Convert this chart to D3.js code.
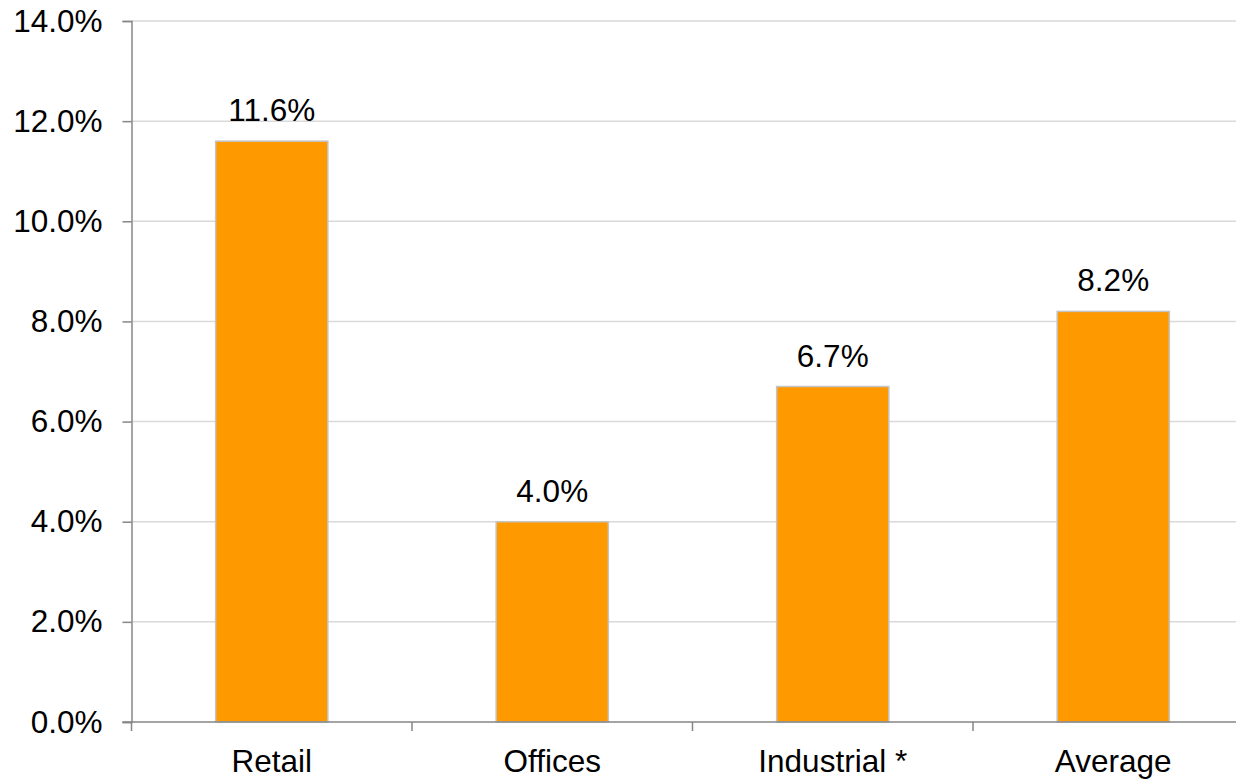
<!DOCTYPE html>
<html>
<head>
<meta charset="utf-8">
<script src="https://cdn.jsdelivr.net/npm/d3@7/dist/d3.min.js"></script>
<style>
  html, body { margin: 0; padding: 0; background: #fff; }
  svg { display: block; font-family: "Liberation Sans", Arial, sans-serif; }
</style>
</head>
<body>
<svg id="chart" width="1236" height="779"></svg>
<script>
// Chart data
const categories = ["Retail", "Offices", "Industrial *", "Average"];
const values = [11.6, 4.0, 6.7, 8.2];
const yTicks = [0, 2, 4, 6, 8, 10, 12, 14];

const svg = d3.select("#chart");
const margin = { left: 131.5, top: 21, bottom: 722 };
const bandW = 280.5;
const plotRight = margin.left + bandW * categories.length;

const x = d3.scaleBand()
  .domain(categories)
  .range([margin.left, plotRight])
  .paddingInner(0.6)
  .paddingOuter(0.3);

const y = d3.scaleLinear()
  .domain([0, 14])
  .range([margin.bottom, margin.top]);

const fmt = v => v.toFixed(1) + "%";
const fontSize = 31.5;

// Horizontal gridlines
svg.append("g")
  .selectAll("line")
  .data(yTicks.filter(t => t > 0))
  .join("line")
  .attr("x1", margin.left)
  .attr("x2", plotRight)
  .attr("y1", d => y(d))
  .attr("y2", d => y(d))
  .attr("stroke", "#d9d9d9")
  .attr("stroke-width", 1.5);

// Y axis
const yAxis = svg.append("g")
  .attr("transform", `translate(${margin.left},0)`)
  .call(d3.axisLeft(y).tickValues(yTicks).tickFormat(fmt).tickSize(9).tickPadding(20));
yAxis.select(".domain").attr("stroke", "#868686").attr("stroke-width", 1.5);
yAxis.selectAll(".tick line").attr("stroke", "#868686").attr("stroke-width", 1.5);
yAxis.selectAll(".tick text")
  .attr("fill", "#000")
  .attr("font-size", fontSize)
  .attr("font-family", "Liberation Sans, Arial, sans-serif");

// Bars
svg.append("g")
  .selectAll("rect")
  .data(values)
  .join("rect")
  .attr("x", (d, i) => x(categories[i]))
  .attr("width", x.bandwidth())
  .attr("y", d => y(d))
  .attr("height", d => y(0) - y(d))
  .attr("fill", "#ff9900")
  .attr("stroke", "#c4c4c4")
  .attr("stroke-width", 1.5);

// X axis with tick marks between categories
const boundaries = d3.range(categories.length + 1).map(i => margin.left + i * bandW);
const xg = svg.append("g");
xg.append("line")
  .attr("x1", margin.left - 9)
  .attr("x2", plotRight)
  .attr("y1", y(0))
  .attr("y2", y(0))
  .attr("stroke", "#868686")
  .attr("stroke-width", 1.5);
xg.selectAll("line.tick")
  .data(boundaries)
  .join("line")
  .attr("class", "tick")
  .attr("x1", d => d)
  .attr("x2", d => d)
  .attr("y1", y(0))
  .attr("y2", y(0) + 9)
  .attr("stroke", "#868686")
  .attr("stroke-width", 1.5);
xg.selectAll("text")
  .data(categories)
  .join("text")
  .attr("x", d => x(d) + x.bandwidth() / 2)
  .attr("y", 772)
  .attr("text-anchor", "middle")
  .attr("font-size", fontSize)
  .attr("fill", "#000")
  .text(d => d);

// Value labels
svg.append("g")
  .selectAll("text")
  .data(values)
  .join("text")
  .attr("x", (d, i) => x(categories[i]) + x.bandwidth() / 2)
  .attr("y", d => y(d) - 20)
  .attr("text-anchor", "middle")
  .attr("font-size", fontSize)
  .attr("fill", "#000")
  .text(fmt);
</script>
</body>
</html>
